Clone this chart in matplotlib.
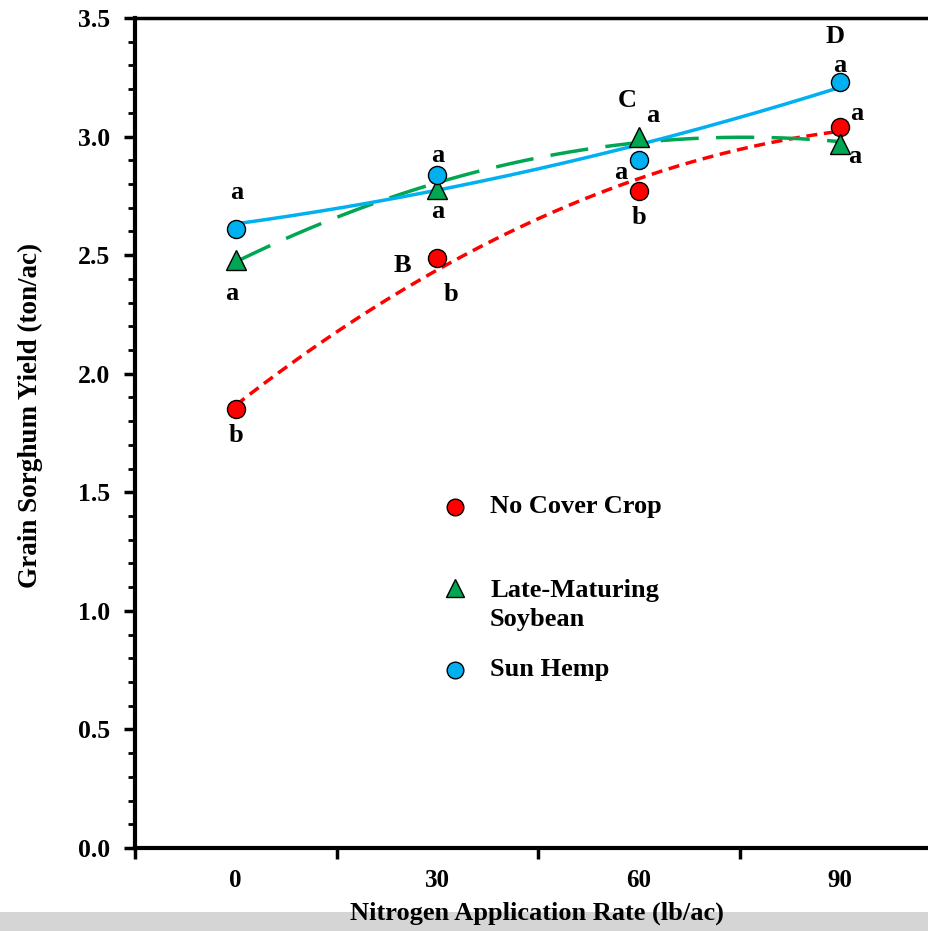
import numpy as np
import matplotlib.pyplot as plt
from matplotlib.patches import Rectangle

# data
rates = ['0', '30', '60', '90']
no_cover = [1.85, 2.49, 2.77, 3.04]
soybean = [2.48, 2.78, 3.00, 2.97]
sun_hemp = [2.61, 2.84, 2.90, 3.23]
series_names = ['No Cover Crop', 'Late-Maturing\nSoybean', 'Sun Hemp']

# mean separation letters: category index, x shift, y value, text
letters_x = [0, 0, 0, 1, 1, 1, 1, 2, 2, 2, 2, 3, 3, 3, 3]
letters_dx = [0.005, -0.018, 0.0, 0.0, 0.0, -0.175, 0.067, -0.058, 0.071, -0.09, 0.0, -0.026, 0.0, 0.083, 0.073]
letters_y = [2.766, 2.34, 1.74, 2.922, 2.682, 2.458, 2.332, 3.154, 3.087, 2.85, 2.66, 3.42, 3.30, 3.099, 2.914]
letters_t = ['a', 'a', 'b', 'a', 'a', 'B', 'b', 'C', 'a', 'a', 'b', 'D', 'a', 'a', 'a']

plt.rcParams['font.family'] = ['Liberation Serif', 'DejaVu Serif']
plt.rcParams['font.weight'] = 'bold'

fig = plt.figure(figsize=(9.29, 9.31), dpi=100)
fig.patches.append(Rectangle((0, 0), 1, 19 / 931, transform=fig.transFigure,
                             facecolor='#d5d5d5', edgecolor='none', zorder=0))
ax = fig.add_axes([135 / 929, 83 / 931, 806 / 929, 830 / 931])

xs = np.arange(len(rates))
xfine = np.linspace(0, 3, 200)
styles = [
    (no_cover, '#ff0000', 'o', (0, (3.2, 1.9))),
    (soybean, '#00a651', '^', (0, (11, 5))),
    (sun_hemp, '#00b0f0', 'o', '-'),
]
for vals, col, mk, ls in styles:
    coef = np.polyfit(xs, vals, 2)
    ax.plot(xfine, np.polyval(coef, xfine), color=col, lw=2.5, ls=ls, zorder=2)
    ax.plot(xs, vals, ls='none', marker=mk, ms=13 if mk == 'o' else 14,
            mfc=col, mec='black', mew=1.0, zorder=3)

for i in range(len(letters_t)):
    ax.text(xs[letters_x[i]] + letters_dx[i], letters_y[i], letters_t[i],
            ha='center', va='center', fontsize=19, fontweight='bold')

# legend drawn by hand to follow the reference spacing
leg_y = [0.411, 0.313, 0.2145]
leg_text_y = [0.411, 0.293, 0.2145]
for (vals, col, mk, ls), name, ly, ty in zip(styles, series_names, leg_y, leg_text_y):
    ax.plot([0.397], [ly], transform=ax.transAxes, ls='none', marker=mk,
            ms=12 if mk == 'o' else 13, mfc=col, mec='black', mew=1.0)
    ax.text(0.4405, ty, name, transform=ax.transAxes, ha='left', va='center',
            fontsize=19, fontweight='bold', linespacing=1.33)

ax.set_xlim(-0.5, 3.5)
ax.set_ylim(0, 3.5)
ax.set_yticks(np.arange(0, 3.51, 0.5))
ax.set_yticklabels([f'{v:.1f}' for v in np.arange(0, 3.51, 0.5)])
ax.set_yticks(np.arange(0, 3.51, 0.1), minor=True)
ax.set_xticks(xs)
ax.set_xticklabels(rates)
ax.set_xticks(np.arange(-0.5, 3.6, 1), minor=True)

ax.tick_params(axis='y', which='major', direction='out', length=8, width=2.5,
               labelsize=18.5, pad=10)
ax.tick_params(axis='y', which='minor', direction='out', length=5, width=2)
ax.tick_params(axis='x', which='major', length=0, labelsize=18, pad=15)
ax.tick_params(axis='x', which='minor', direction='out', length=8, width=2.5)

for s in ['left', 'bottom']:
    ax.spines[s].set_linewidth(3)
ax.spines['top'].set_linewidth(2.5)
ax.spines['right'].set_visible(False)

fig.text(537 / 929, 1 - 913 / 931, 'Nitrogen Application Rate (lb/ac)',
         ha='center', va='center', fontsize=19, fontweight='bold')
fig.text(30 / 929, 1 - 415 / 931, 'Grain Sorghum Yield (ton/ac)', rotation=90,
         ha='center', va='center', fontsize=19.5, fontweight='bold')

fig.savefig('out.png', dpi=100)
